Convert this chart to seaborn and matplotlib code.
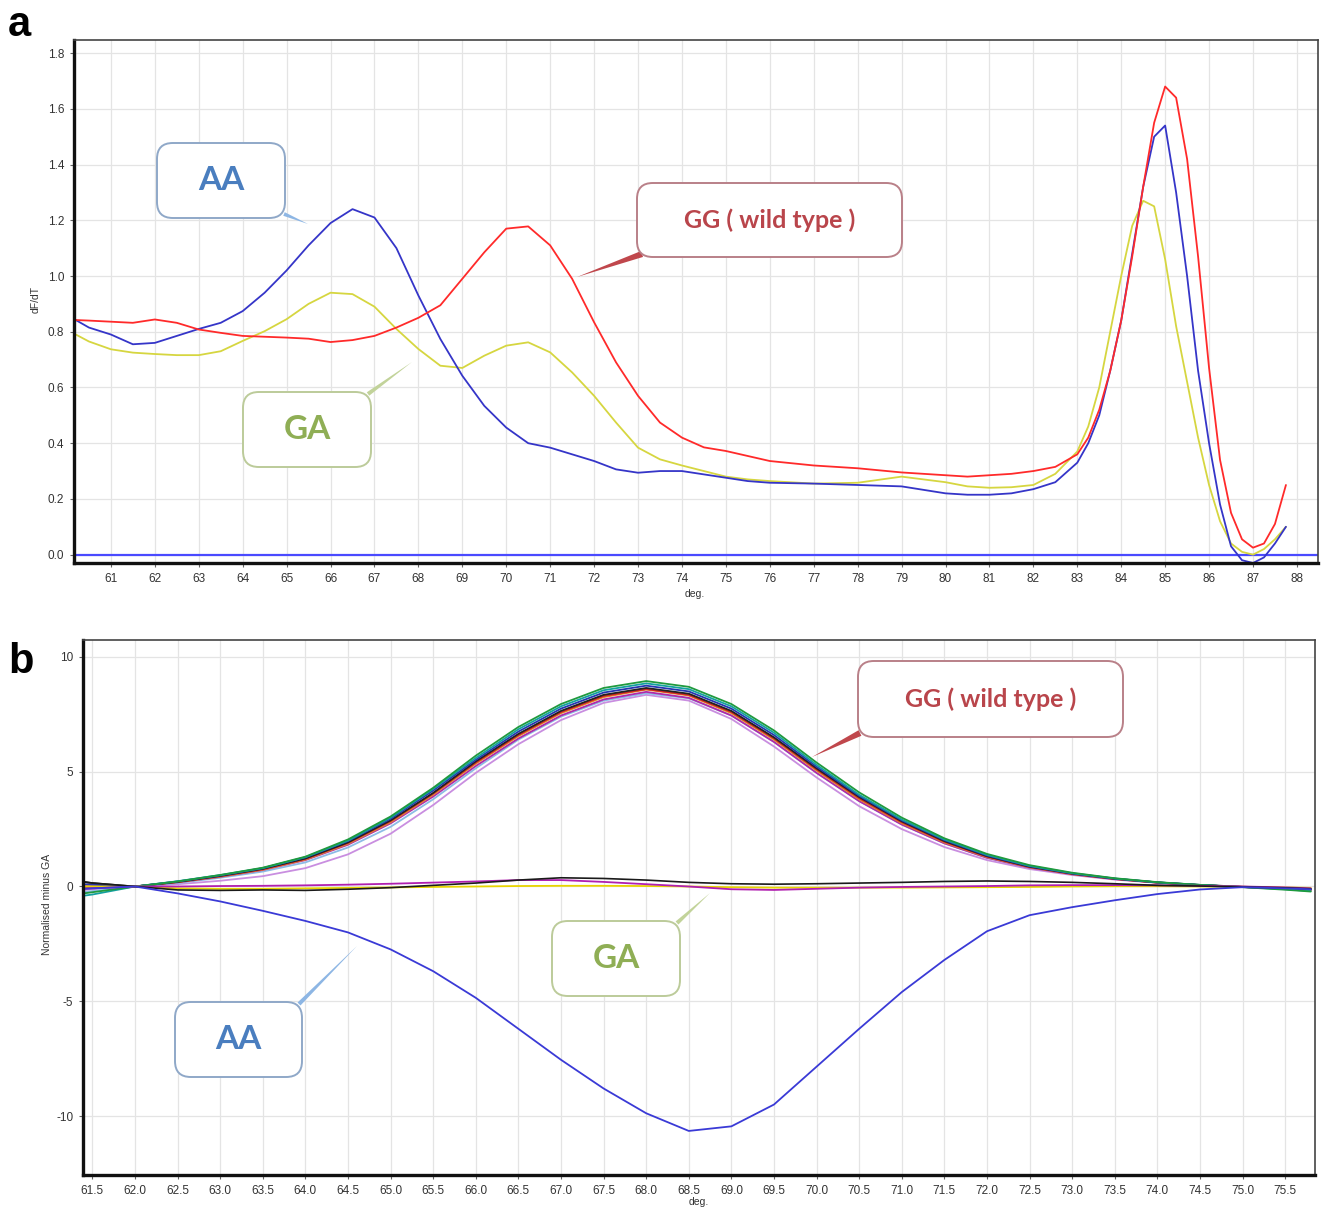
import pandas as pd
import matplotlib
matplotlib.use("Agg")
import matplotlib.pyplot as plt
import seaborn as sns
from matplotlib.patches import FancyBboxPatch, FancyArrowPatch

# ---- panel a: melt curves (dF/dT) ----
temp_a = [60.2, 60.5, 61, 61.5, 62, 62.5, 63, 63.5, 64, 64.5, 65, 65.5, 66, 66.5,
          67, 67.5, 68, 68.5, 69, 69.5, 70, 70.5, 71, 71.5, 72, 72.5, 73, 73.5,
          74, 74.5, 75, 75.5, 76, 77, 78, 79, 80, 80.5, 81, 81.5, 82, 82.5, 83,
          83.25, 83.5, 83.75, 84, 84.25, 84.5, 84.75, 85, 85.25, 85.5, 85.75,
          86, 86.25, 86.5, 86.75, 87, 87.25, 87.5, 87.75]
melt_gg = [0.842, 0.840, 0.836, 0.832, 0.844, 0.832, 0.808, 0.796, 0.785, 0.782,
           0.779, 0.775, 0.763, 0.770, 0.785, 0.815, 0.850, 0.895, 0.990, 1.085,
           1.170, 1.178, 1.110, 0.990, 0.834, 0.690, 0.570, 0.474, 0.420, 0.385,
           0.372, 0.354, 0.336, 0.320, 0.310, 0.295, 0.285, 0.280, 0.285, 0.290,
           0.300, 0.315, 0.360, 0.420, 0.520, 0.660, 0.840, 1.070, 1.320, 1.550,
           1.680, 1.640, 1.420, 1.070, 0.670, 0.340, 0.150, 0.055, 0.025, 0.040,
           0.110, 0.250]
melt_aa = [0.842, 0.815, 0.790, 0.755, 0.760, 0.785, 0.810, 0.832, 0.874, 0.940,
           1.020, 1.110, 1.190, 1.240, 1.210, 1.100, 0.930, 0.774, 0.642, 0.534,
           0.456, 0.400, 0.384, 0.360, 0.336, 0.306, 0.294, 0.300, 0.300, 0.288,
           0.276, 0.264, 0.258, 0.255, 0.250, 0.245, 0.220, 0.215, 0.215, 0.220,
           0.235, 0.260, 0.330, 0.400, 0.500, 0.660, 0.840, 1.080, 1.320, 1.500,
           1.540, 1.300, 1.000, 0.660, 0.400, 0.180, 0.030, -0.020, -0.030, -0.010,
           0.040, 0.100]
melt_ga = [0.790, 0.765, 0.737, 0.725, 0.720, 0.716, 0.716, 0.730, 0.767, 0.802,
           0.845, 0.900, 0.940, 0.935, 0.890, 0.810, 0.738, 0.678, 0.670, 0.714,
           0.750, 0.762, 0.726, 0.654, 0.570, 0.474, 0.384, 0.342, 0.320, 0.300,
           0.280, 0.270, 0.264, 0.255, 0.258, 0.280, 0.260, 0.245, 0.240, 0.242,
           0.250, 0.290, 0.370, 0.460, 0.600, 0.800, 1.000, 1.180, 1.270, 1.250,
           1.060, 0.820, 0.620, 0.420, 0.250, 0.120, 0.040, 0.010, 0.000, 0.020,
           0.055, 0.100]
ticks_a_x = list(range(61, 89))
ticks_a_y = [0.0, 0.2, 0.4, 0.6, 0.8, 1.0, 1.2, 1.4, 1.6, 1.8]

# ---- panel b: normalised minus GA ----
temp_b = [61.4, 61.5, 62.0, 62.5, 63.0, 63.5, 64.0, 64.5, 65.0, 65.5, 66.0, 66.5,
          67.0, 67.5, 68.0, 68.5, 69.0, 69.5, 70.0, 70.5, 71.0, 71.5, 72.0, 72.5,
          73.0, 73.5, 74.0, 74.5, 75.0, 75.5, 75.8]
diff_aa = [-0.10, -0.08, 0.00, -0.30, -0.65, -1.06, -1.50, -2.00, -2.74, -3.69,
           -4.85, -6.20, -7.55, -8.80, -9.88, -10.65, -10.45, -9.50, -7.85, -6.20,
           -4.60, -3.20, -1.95, -1.25, -0.90, -0.60, -0.33, -0.13, -0.03, -0.08, -0.12]
diff_ga_black = [0.20, 0.15, 0.00, -0.15, -0.17, -0.15, -0.17, -0.12, -0.05, 0.05,
                 0.15, 0.28, 0.38, 0.35, 0.28, 0.18, 0.12, 0.10, 0.12, 0.15, 0.18,
                 0.22, 0.24, 0.22, 0.18, 0.12, 0.05, 0.02, -0.02, -0.06, -0.10]
diff_ga_magenta = [-0.10, -0.08, 0.00, 0.00, 0.02, 0.03, 0.05, 0.08, 0.12, 0.17,
                   0.22, 0.28, 0.28, 0.20, 0.10, 0.00, -0.12, -0.15, -0.10, -0.05,
                   -0.02, 0.00, 0.02, 0.05, 0.06, 0.06, 0.05, 0.03, 0.00, -0.04, -0.08]
diff_ga_yellow = [0.00, 0.00, 0.00, -0.08, -0.10, -0.10, -0.08, -0.06, -0.04, -0.02,
                  0.00, 0.02, 0.03, 0.03, 0.02, 0.00, -0.03, -0.05, -0.05, -0.05,
                  -0.05, -0.04, -0.03, -0.02, 0.00, 0.01, 0.01, 0.00, -0.01, -0.04, -0.06]
gg_violet = [-0.15, -0.12, 0.00, 0.10, 0.25, 0.45, 0.80, 1.40, 2.30, 3.55, 4.95, 6.20,
             7.25, 8.00, 8.35, 8.10, 7.30, 6.10, 4.75, 3.50, 2.50, 1.72, 1.15, 0.76,
             0.50, 0.30, 0.16, 0.06, -0.02, -0.10, -0.15]
gg_lightblue = [-0.25, -0.20, 0.00, 0.15, 0.38, 0.65, 1.05, 1.70, 2.60, 3.80, 5.15,
                6.40, 7.40, 8.10, 8.42, 8.20, 7.45, 6.30, 4.95, 3.72, 2.70, 1.88, 1.25,
                0.83, 0.54, 0.33, 0.17, 0.06, -0.02, -0.10, -0.15]
gg_magenta = [-0.05, -0.05, 0.00, 0.18, 0.42, 0.72, 1.15, 1.82, 2.75, 3.92, 5.25,
              6.45, 7.45, 8.15, 8.48, 8.22, 7.45, 6.30, 4.95, 3.72, 2.70, 1.88, 1.25,
              0.82, 0.53, 0.32, 0.17, 0.06, -0.02, -0.10, -0.14]
gg_orange = [0.00, 0.00, 0.00, 0.19, 0.43, 0.73, 1.17, 1.86, 2.80, 4.00, 5.35, 6.55,
             7.55, 8.25, 8.58, 8.32, 7.55, 6.40, 5.05, 3.80, 2.76, 1.92, 1.28, 0.84,
             0.54, 0.33, 0.17, 0.06, -0.02, -0.10, -0.15]
gg_red = [0.00, 0.00, 0.00, 0.20, 0.45, 0.75, 1.20, 1.90, 2.85, 4.05, 5.40, 6.60,
          7.60, 8.30, 8.60, 8.35, 7.60, 6.45, 5.10, 3.85, 2.80, 1.95, 1.30, 0.85,
          0.55, 0.33, 0.17, 0.06, -0.02, -0.10, -0.15]
gg_black = [0.20, 0.15, 0.00, 0.20, 0.46, 0.77, 1.22, 1.92, 2.88, 4.08, 5.45, 6.65,
            7.65, 8.35, 8.65, 8.40, 7.65, 6.50, 5.15, 3.90, 2.84, 1.98, 1.32, 0.86,
            0.56, 0.34, 0.18, 0.07, -0.01, -0.06, -0.10]
gg_blue = [0.10, 0.08, 0.00, 0.22, 0.48, 0.80, 1.27, 1.98, 2.95, 4.18, 5.52, 6.75,
           7.75, 8.45, 8.75, 8.50, 7.75, 6.60, 5.22, 3.95, 2.88, 2.02, 1.35, 0.88,
           0.57, 0.34, 0.18, 0.06, -0.02, -0.08, -0.12]
gg_teal = [-0.40, -0.35, 0.00, 0.23, 0.50, 0.80, 1.28, 2.00, 3.00, 4.25, 5.60, 6.85,
           7.85, 8.55, 8.85, 8.60, 7.85, 6.70, 5.30, 4.00, 2.92, 2.05, 1.38, 0.90,
           0.58, 0.35, 0.18, 0.07, -0.02, -0.12, -0.20]
gg_green = [-0.30, -0.25, 0.00, 0.22, 0.50, 0.82, 1.30, 2.05, 3.05, 4.30, 5.70, 6.95,
            7.95, 8.65, 8.95, 8.70, 7.95, 6.80, 5.40, 4.10, 3.00, 2.10, 1.42, 0.93,
            0.60, 0.36, 0.19, 0.07, -0.03, -0.14, -0.22]
gg_samples = [gg_violet, gg_lightblue, gg_magenta, gg_orange, gg_red, gg_black,
              gg_blue, gg_teal, gg_green]
gg_colors = ['#c98ee0', '#8cbbe6', '#b02aa8', '#e08a2c', '#d42424', '#222222',
             '#2636b0', '#14a0a0', '#1f9a3e']
ticks_b_x = [61.5 + 0.5 * i for i in range(29)]
ticks_b_y = [-10, -5, 0, 5, 10]

W, H = 1321, 1207
sns.set_style("whitegrid")
plt.rcParams['font.family'] = ['Liberation Sans', 'DejaVu Sans']
plt.rcParams['axes.unicode_minus'] = False
fig = plt.figure(figsize=(W / 100, H / 100), dpi=100)

ax_a = fig.add_axes([74 / W, 1 - 563 / H, (1318 - 74) / W, (563 - 40) / H])
ax_b = fig.add_axes([83 / W, 1 - 1175 / H, (1315 - 83) / W, (1175 - 640) / H])

# panel a curves
ax_a.axhline(0, color='#4a4aff', lw=1.6, zorder=1)
sns.lineplot(x=temp_a, y=melt_ga, color='#d6d640', lw=1.3, ax=ax_a)
sns.lineplot(x=temp_a, y=melt_aa, color='#3535c8', lw=1.3, ax=ax_a)
sns.lineplot(x=temp_a, y=melt_gg, color='#ff2a2a', lw=1.3, ax=ax_a)

# panel b curves
gg_df = pd.DataFrame({
    'deg': temp_b * len(gg_samples),
    'value': [v for s in gg_samples for v in s],
    'sample': [i for i, s in enumerate(gg_samples) for _ in s],
})
sns.lineplot(data=gg_df, x='deg', y='value', hue='sample', palette=gg_colors,
             lw=1.3, legend=False, ax=ax_b)
sns.lineplot(x=temp_b, y=diff_ga_yellow, color='#e8d400', lw=1.3, ax=ax_b)
sns.lineplot(x=temp_b, y=diff_ga_magenta, color='#b01fb0', lw=1.3, ax=ax_b)
sns.lineplot(x=temp_b, y=diff_ga_black, color='#1a1a1a', lw=1.2, ax=ax_b)
sns.lineplot(x=temp_b, y=diff_aa, color='#3a3ad6', lw=1.3, ax=ax_b)

ax_a.set_xlim(60.16, 88.48)
ax_a.set_ylim(-0.03, 1.847)
ax_a.set_xticks(ticks_a_x)
ax_a.set_yticks(ticks_a_y)
ax_a.set_yticklabels([f"{v:.1f}" for v in ticks_a_y])
ax_a.set_xlabel("deg.", fontsize=7.5, color='#333333')
ax_a.set_ylabel("dF/dT", fontsize=7.5, color='#333333')
ax_a.xaxis.set_label_coords(0.499, -0.049)
ax_a.yaxis.set_label_coords(-0.027, 0.503)

ax_b.set_xlim(61.39, 75.85)
ax_b.set_ylim(-12.57, 10.74)
ax_b.set_xticks(ticks_b_x)
ax_b.set_xticklabels([f"{v:.1f}" for v in ticks_b_x])
ax_b.set_yticks(ticks_b_y)
ax_b.set_xlabel("deg.", fontsize=7.5, color='#333333')
ax_b.set_ylabel("Normalised minus GA", fontsize=7.5, color='#333333')
ax_b.xaxis.set_label_coords(0.5, -0.042)
ax_b.yaxis.set_label_coords(-0.025, 0.505)

for ax in (ax_a, ax_b):
    ax.set_facecolor('white')
    ax.grid(True, color='#e4e4e4', lw=0.9)
    ax.tick_params(axis='both', labelsize=8.5, labelcolor='#333333', length=3,
                   width=0.8, color='#666666', direction='out', pad=4,
                   bottom=True, left=True)
    for side in ('left', 'bottom'):
        ax.spines[side].set_color('#111111')
        ax.spines[side].set_linewidth(2.4)
    for side in ('top', 'right'):
        ax.spines[side].set_color('#444444')
        ax.spines[side].set_linewidth(1.2)

fig.text(8 / W, 1 - 36 / H, "a", fontsize=30, fontweight='bold', color='black')
fig.text(8 / W, 1 - 673 / H, "b", fontsize=30, fontweight='bold', color='black')


def callout(text, box, start, tip, txt_color, edge, link, size, width):
    x0, y0, x1, y1 = box
    fig.add_artist(FancyArrowPatch(
        (start[0] / W, 1 - start[1] / H), (tip[0] / W, 1 - tip[1] / H),
        arrowstyle=f"wedge,tail_width={width}", mutation_scale=10,
        shrinkA=0, shrinkB=0, fc=link, ec='none', transform=fig.transFigure,
        zorder=4))
    fig.add_artist(FancyBboxPatch(
        (x0 / W, 1 - y1 / H), (x1 - x0) / W, (y1 - y0) / H,
        boxstyle="round,pad=0,rounding_size=0.012", mutation_aspect=W / H,
        transform=fig.transFigure, fc='white', ec=edge, lw=1.4, zorder=5))
    fig.text((x0 + x1) / 2 / W, 1 - (y0 + y1) / 2 / H, text, ha='center',
             va='center', color=txt_color, fontsize=size, fontweight='bold',
             family='Lato', zorder=6)


blue_t, red_t, green_t = '#4a7ebf', '#b9454b', '#8fae55'
callout("AA", (157, 143, 285, 218), (284, 214), (308, 224), blue_t, '#8fa8c8',
        '#8db6e4', 24, 0.28)
callout("GG ( wild type )", (637, 183, 902, 257), (642, 254), (577, 277), red_t,
        '#b98088', '#c0474c', 18, 0.45)
callout("GA", (243, 392, 371, 467), (368, 394), (412, 362), green_t, '#bccb9a',
        '#c2d39a', 24, 0.3)
callout("GG ( wild type )", (858, 661, 1123, 737), (860, 733), (812, 757), red_t,
        '#b98088', '#c0474c', 18, 0.45)
callout("GA", (552, 921, 680, 996), (677, 923), (710, 893), green_t, '#bccb9a',
        '#c2d39a', 24, 0.3)
callout("AA", (175, 1002, 302, 1077), (299, 1004), (357, 946), blue_t, '#8fa8c8',
        '#8db6e4', 24, 0.3)

fig.savefig("out.png", dpi=100, facecolor='white')
